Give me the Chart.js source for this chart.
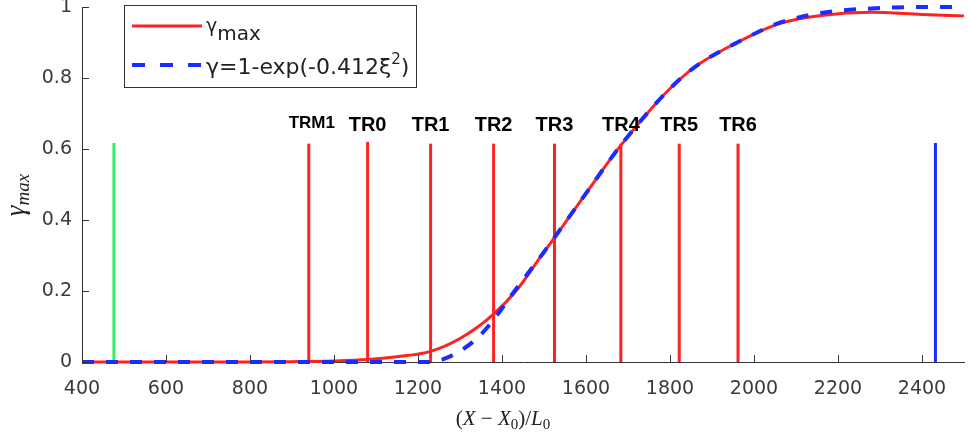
<!DOCTYPE html>
<html>
<head>
<meta charset="utf-8">
<script src="https://cdn.jsdelivr.net/npm/chart.js@4.4.1/dist/chart.umd.min.js"></script>
<style>
html, body { margin: 0; padding: 0; background: #fff; }
#wrap { width: 968px; height: 439px; }
</style>
</head>
<body>
<div id="wrap"><canvas id="gamma_chart" width="968" height="439"></canvas></div>
<script>
// gamma_max measured along the domain
const xPos = [400, 600, 800, 900, 1000, 1080, 1150, 1230, 1300, 1380, 1440, 1500, 1525, 1600, 1680, 1760, 1820, 1870, 1960, 2060, 2160, 2280, 2400, 2500];
const gammaMax = [0, 0, 0, 0.001, 0.003, 0.007, 0.015, 0.03, 0.066, 0.135, 0.21, 0.31, 0.35, 0.475, 0.606, 0.72, 0.793, 0.84, 0.9, 0.953, 0.976, 0.985, 0.979, 0.975];

// fitted curve
const fitX = [400, 1000, 1230, 1275, 1330, 1370, 1430, 1500, 1600, 1680, 1760, 1820, 1870, 1960, 2060, 2160, 2280, 2400, 2500];
const fitGamma = [0, 0, 0, 0.015, 0.056, 0.104, 0.2, 0.31, 0.475, 0.606, 0.72, 0.793, 0.84, 0.9, 0.955, 0.983, 0.996, 1.0, 1.0];

// station markers
const trNames = ['TRM1', 'TR0', 'TR1', 'TR2', 'TR3', 'TR4', 'TR5', 'TR6'];
const trX = [940, 1080, 1230, 1380, 1525, 1683, 1822, 1962];
const trTop = [0.615, 0.62, 0.615, 0.615, 0.615, 0.615, 0.615, 0.615];
const startX = 476;
const endX = 2432;
const edgeTop = 0.617;

const xTicks = [400, 600, 800, 1000, 1200, 1400, 1600, 1800, 2000, 2200, 2400];
const yTicks = [0, 0.2, 0.4, 0.6, 0.8, 1];
const yTickLabels = ['0', '0.2', '0.4', '0.6', '0.8', '1'];

const RED = '#ff2222';
const BLUE = '#1a2cff';
const GREEN = '#33ee66';

function toPoints(xs, ys) {
    return xs.map((x, i) => ({ x: x, y: ys[i] }));
}

function vline(x, top, color) {
    return {
        data: [{ x: x, y: 0 }, { x: x, y: top }],
        borderColor: color,
        borderWidth: 3,
        pointRadius: 0,
        showLine: true,
        order: 5,
    };
}

const datasets = [];
datasets.push(vline(startX, edgeTop, GREEN));
datasets.push(vline(endX, edgeTop, BLUE));
trX.forEach((x, i) => datasets.push(vline(x, trTop[i], RED)));

datasets.push({
    data: toPoints(xPos, gammaMax),
    borderColor: RED,
    borderWidth: 3,
    pointRadius: 0,
    showLine: true,
    cubicInterpolationMode: 'monotone',
    clip: 5,
    order: 2,
});
datasets.push({
    data: toPoints(fitX, fitGamma),
    borderColor: BLUE,
    borderWidth: 4,
    borderDash: [12, 12],
    pointRadius: 0,
    showLine: true,
    cubicInterpolationMode: 'monotone',
    clip: 5,
    order: 1,
});

// draws pieces of text one after another, some italic / sub / sup
function drawRuns(ctx, runs, x, y) {
    let cx = x;
    runs.forEach(r => {
        ctx.font = r.font;
        ctx.fillText(r.text, cx, y + (r.dy || 0));
        cx += ctx.measureText(r.text).width;
    });
}
function runsWidth(ctx, runs) {
    let w = 0;
    runs.forEach(r => { ctx.font = r.font; w += ctx.measureText(r.text).width; });
    return w;
}

const extras = {
    id: 'extras',
    afterDraw(chart) {
        const ctx = chart.ctx;
        const xs = chart.scales.x, ys = chart.scales.y;
        const area = chart.chartArea;
        ctx.save();

        // inward ticks
        ctx.strokeStyle = '#333';
        ctx.lineWidth = 1;
        ctx.beginPath();
        xTicks.forEach(v => {
            const px = Math.round(xs.getPixelForValue(v)) + 0.5;
            ctx.moveTo(px, area.bottom);
            ctx.lineTo(px, area.bottom - 7);
        });
        yTicks.forEach(v => {
            const py = Math.round(ys.getPixelForValue(v)) + 0.5;
            ctx.moveTo(area.left, py);
            ctx.lineTo(area.left + 7, py);
        });
        ctx.stroke();

        // station names
        ctx.fillStyle = '#000';
        ctx.textAlign = 'center';
        ctx.textBaseline = 'middle';
        trNames.forEach((name, i) => {
            const px = xs.getPixelForValue(trX[i]);
            if (name === 'TRM1') {
                ctx.font = 'bold 17px "Liberation Sans", Arial, sans-serif';
                ctx.fillText(name, px + 3, ys.getPixelForValue(0.673));
            } else {
                ctx.font = 'bold 20px "Liberation Sans", Arial, sans-serif';
                ctx.fillText(name, px, ys.getPixelForValue(0.667));
            }
        });

        // legend box
        const lx = 124, ly = 5, lw = 292, lh = 82;
        ctx.fillStyle = '#fff';
        ctx.fillRect(lx, ly, lw, lh);
        ctx.strokeStyle = '#333';
        ctx.lineWidth = 1;
        ctx.strokeRect(lx + 0.5, ly + 0.5, lw, lh);

        ctx.lineWidth = 3;
        ctx.strokeStyle = RED;
        ctx.beginPath();
        ctx.moveTo(132, 26);
        ctx.lineTo(202, 26);
        ctx.stroke();

        ctx.lineWidth = 4;
        ctx.strokeStyle = BLUE;
        ctx.setLineDash([13, 15]);
        ctx.beginPath();
        ctx.moveTo(132, 65);
        ctx.lineTo(202, 65);
        ctx.stroke();
        ctx.setLineDash([]);

        ctx.fillStyle = '#222';
        ctx.textAlign = 'left';
        ctx.textBaseline = 'alphabetic';
        const sans = '"DejaVu Sans", sans-serif';
        drawRuns(ctx, [
            { text: 'γ', font: '19px ' + sans },
            { text: 'max', font: '20px ' + sans, dy: 8 },
        ], 206, 32);
        drawRuns(ctx, [
            { text: 'γ=1-exp(-0.412ξ', font: '22px ' + sans, dy: 4 },
            { text: '2', font: '15px ' + sans, dy: -6 },
            { text: ')', font: '22px ' + sans, dy: 4 },
        ], 206, 70);

        // x axis title
        const serif = '"Liberation Serif", "DejaVu Serif", serif';
        const xRuns = [
            { text: '(', font: '21px ' + serif },
            { text: 'X', font: 'italic 21px ' + serif },
            { text: ' − ', font: '21px ' + serif },
            { text: 'X', font: 'italic 21px ' + serif },
            { text: '0', font: '15px ' + serif, dy: 4 },
            { text: ')/', font: '21px ' + serif },
            { text: 'L', font: 'italic 21px ' + serif },
            { text: '0', font: '15px ' + serif, dy: 4 },
        ];
        ctx.fillStyle = '#222';
        drawRuns(ctx, xRuns, 503 - runsWidth(ctx, xRuns) / 2, 425);

        // y axis title
        const yRuns = [
            { text: 'γ', font: 'italic 27px ' + serif },
            { text: 'max', font: 'italic 19px ' + serif, dy: 5 },
        ];
        ctx.translate(24, 195);
        ctx.rotate(-Math.PI / 2);
        drawRuns(ctx, yRuns, -runsWidth(ctx, yRuns) / 2, 0);

        ctx.restore();
    }
};

new Chart(
    document.getElementById('gamma_chart'),
    {
        type: 'scatter',
        data: { datasets: datasets },
        options: {
            responsive: false,
            animation: false,
            layout: { padding: { top: 7, right: 4, left: 0, bottom: 0 } },
            plugins: {
                legend: { display: false },
                tooltip: { enabled: false },
            },
            scales: {
                x: {
                    type: 'linear',
                    min: 400,
                    max: 2500,
                    afterBuildTicks: scale => { scale.ticks = xTicks.map(v => ({ value: v })); },
                    afterFit: scale => {
                        scale.height = 77;
                        scale.paddingLeft = 0;
                        scale.paddingRight = 0;
                    },
                    grid: { drawOnChartArea: false, drawTicks: false },
                    border: { display: true, color: '#333', width: 1 },
                    ticks: {
                        color: '#3a3a3a',
                        padding: 16,
                        font: { family: 'DejaVu Sans', size: 19 },
                        callback: v => String(v),
                    },
                },
                y: {
                    type: 'linear',
                    min: 0,
                    max: 1,
                    afterBuildTicks: scale => { scale.ticks = yTicks.map(v => ({ value: v })); },
                    afterFit: scale => {
                        scale.width = 82;
                        scale.paddingTop = 0;
                        scale.paddingBottom = 0;
                    },
                    grid: { drawOnChartArea: false, drawTicks: false },
                    border: { display: true, color: '#333', width: 1 },
                    ticks: {
                        color: '#3a3a3a',
                        padding: 10,
                        font: { family: 'DejaVu Sans', size: 19 },
                        callback: (v, i) => yTickLabels[i],
                    },
                },
            },
        },
        plugins: [extras],
    }
);
</script>
</body>
</html>
